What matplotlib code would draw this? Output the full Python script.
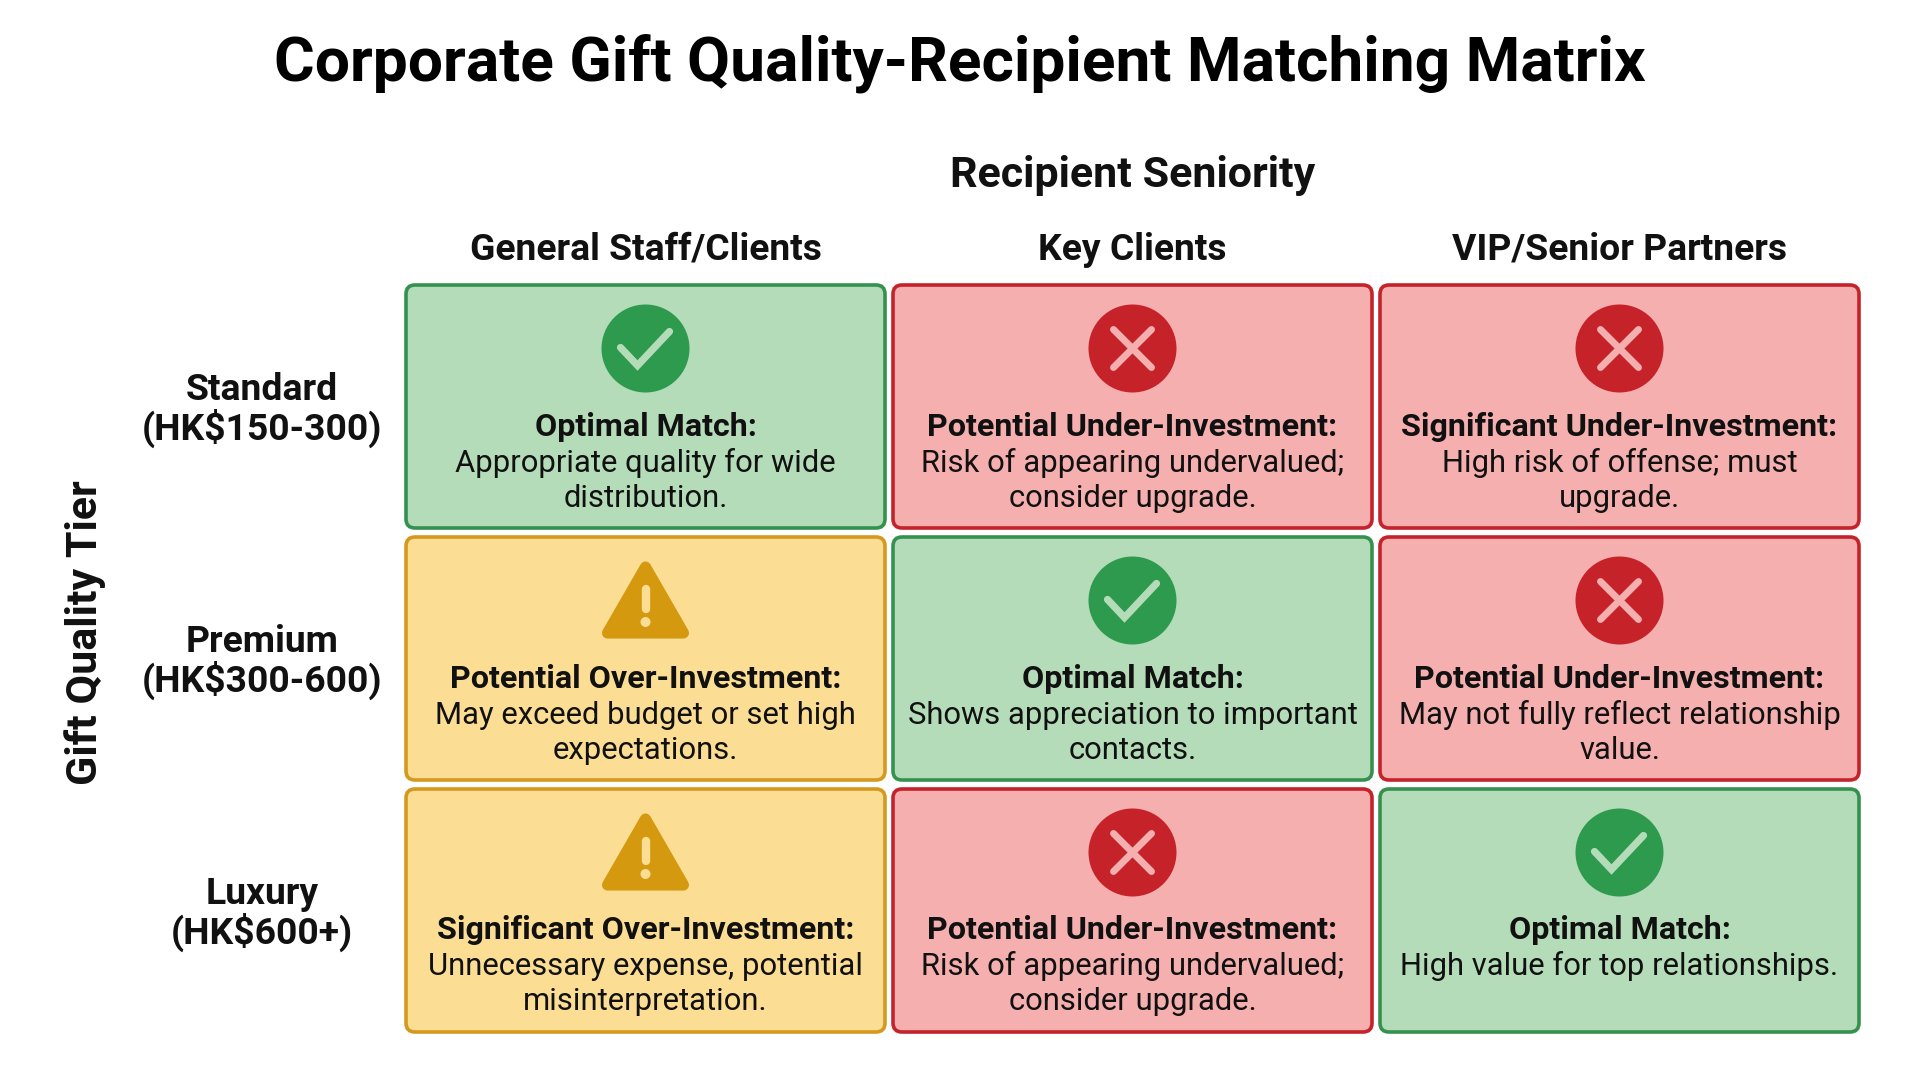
import matplotlib
matplotlib.use("Agg")
import matplotlib.pyplot as plt
from matplotlib.patches import Circle, FancyBboxPatch, Polygon

plt.rcParams['font.family'] = ['Roboto', 'DejaVu Sans']

title = "Corporate Gift Quality-Recipient Matching Matrix"
x_title = "Recipient Seniority"
y_title = "Gift Quality Tier"
col_labels = ["General Staff/Clients", "Key Clients", "VIP/Senior Partners"]
row_labels = ["Standard\n(HK$150-300)", "Premium\n(HK$300-600)", "Luxury\n(HK$600+)"]

# ok = check mark, over = warning triangle, under = cross
status = [["ok", "under", "under"],
          ["over", "ok", "under"],
          ["over", "under", "ok"]]
headings = [["Optimal Match:", "Potential Under-Investment:", "Significant Under-Investment:"],
            ["Potential Over-Investment:", "Optimal Match:", "Potential Under-Investment:"],
            ["Significant Over-Investment:", "Potential Under-Investment:", "Optimal Match:"]]
bodies = [["Appropriate quality for wide\ndistribution.",
           "Risk of appearing undervalued;\nconsider upgrade.",
           "High risk of offense; must\nupgrade."],
          ["May exceed budget or set high\nexpectations.",
           "Shows appreciation to important\ncontacts.",
           "May not fully reflect relationship\nvalue."],
          ["Unnecessary expense, potential\nmisinterpretation.",
           "Risk of appearing undervalued;\nconsider upgrade.",
           "High value for top relationships."]]

colors = {"ok": ("#B5DCB9", "#35914F", "#2E9A4E"),
          "under": ("#F5AFAF", "#C4232B", "#C6222A"),
          "over": ("#FCDD94", "#D4991F", "#D4990F")}

CELL_W, CELL_H = 479, 243
COL_X = [406, 893, 1380]
ROW_Y = [285, 537, 789]
TEXT_Y = [284, 536, 787]  # text sits a little higher than the boxes going down
TEXT = "#111111"


def draw_icon(ax, kind, cx, top):
    fill, edge, icon = colors[kind]
    if kind == "over":
        ax.add_patch(Polygon([(cx, top + 30), (cx + 38, top + 96), (cx - 38, top + 96)], closed=True,
                             fc=icon, ec=icon, lw=8, joinstyle='round', zorder=3))
        ax.plot([cx, cx], [top + 52, top + 72], color=fill, lw=6, solid_capstyle='round', zorder=4)
        ax.add_patch(Circle((cx, top + 85), 5, fc=fill, ec='none', zorder=4))
        return
    cy = top + 63.5
    ax.add_patch(Circle((cx, cy), 44, fc=icon, ec='none', zorder=3))
    if kind == "ok":
        ax.plot([cx - 25, cx - 8, cx + 24], [cy - 1, cy + 17, cy - 17], color=fill, lw=5.2,
                solid_capstyle='round', solid_joinstyle='miter', zorder=4)
    else:
        ax.plot([cx - 19, cx + 19], [cy - 19, cy + 19], color=fill, lw=5, solid_capstyle='round', zorder=4)
        ax.plot([cx - 19, cx + 19], [cy + 19, cy - 19], color=fill, lw=5, solid_capstyle='round', zorder=4)


fig = plt.figure(figsize=(19.2, 10.72), dpi=100, facecolor='white')
ax = fig.add_axes([0, 0, 1, 1])
ax.set_xlim(0, 1920)
ax.set_ylim(1072, 0)
ax.axis('off')

ax.text(960, 82, title, ha='center', va='baseline', fontsize=44.85, fontweight='bold', color='black')
ax.text(1133, 187, x_title, ha='center', va='baseline', fontsize=31, fontweight='bold', color=TEXT)
ax.text(85, 633, y_title, ha='center', va='center', rotation=90, fontsize=31, fontweight='bold', color=TEXT)

for j, label in enumerate(col_labels):
    ax.text(COL_X[j] + CELL_W / 2, 260, label, ha='center', va='baseline', fontsize=26.8,
            fontweight='bold', color=TEXT)

for i, label in enumerate(row_labels):
    first, second = label.split("\n")
    mid = ROW_Y[i] + CELL_H / 2
    ax.text(262, mid - 7, first, ha='center', va='baseline', fontsize=26.8, fontweight='bold', color=TEXT)
    ax.text(262, mid + 33, second, ha='center', va='baseline', fontsize=26.8, fontweight='bold', color=TEXT)

for i in range(3):
    for j in range(3):
        kind = status[i][j]
        fill, edge, icon = colors[kind]
        x, y = COL_X[j], ROW_Y[i]
        ax.add_patch(FancyBboxPatch((x, y), CELL_W, CELL_H, boxstyle="round,pad=0,rounding_size=9",
                                    fc=fill, ec=edge, lw=2.6, zorder=2))
        cx = x + CELL_W / 2
        draw_icon(ax, kind, cx, y)
        ax.text(cx, TEXT_Y[i] + 152, headings[i][j], ha='center', va='baseline', fontsize=23.2,
                fontweight='bold', color=TEXT, zorder=5)
        for k, line in enumerate(bodies[i][j].split("\n")):
            ax.text(cx, TEXT_Y[i] + 188 + 35 * k, line, ha='center', va='baseline', fontsize=22.35,
                    color=TEXT, zorder=5)

fig.savefig("out.png", dpi=100)
